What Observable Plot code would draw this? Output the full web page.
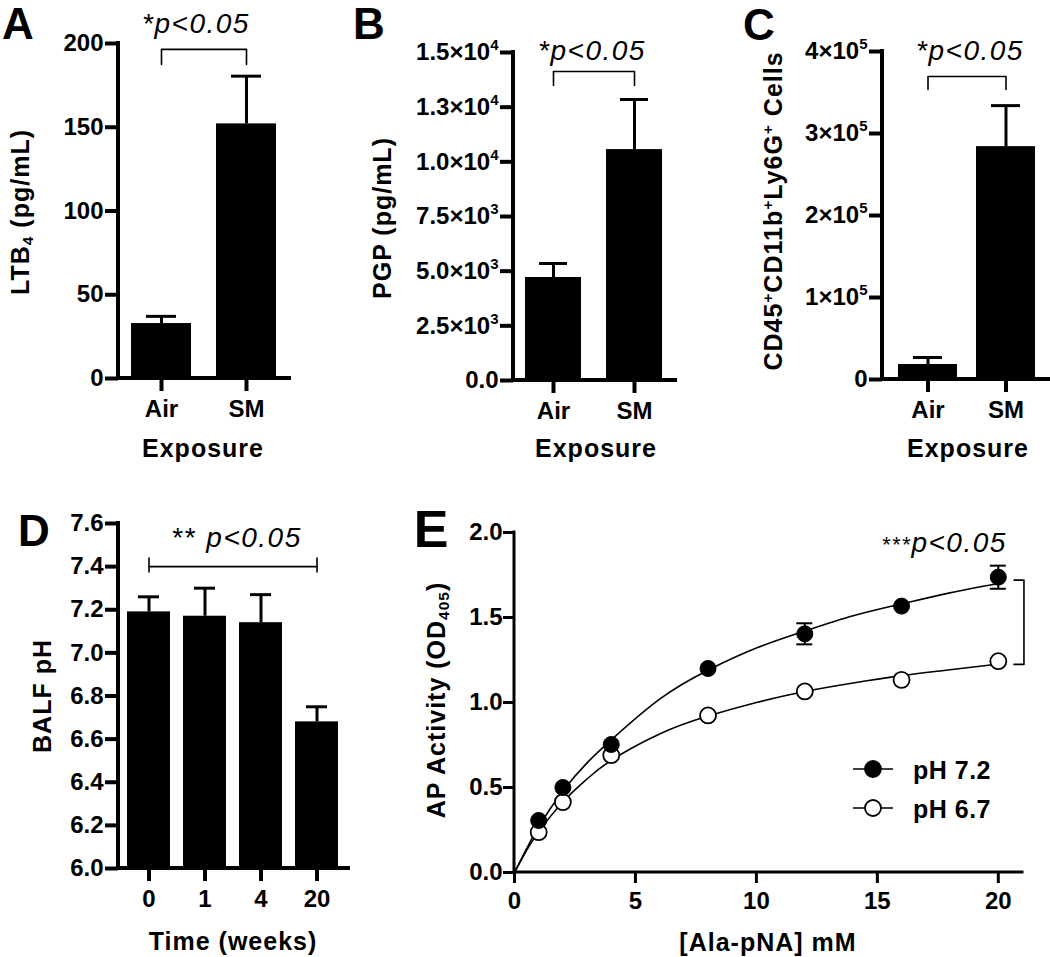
<!DOCTYPE html>
<html>
<head>
<meta charset="utf-8">
<script src="https://cdn.jsdelivr.net/npm/d3@7"></script>
<script src="https://cdn.jsdelivr.net/npm/@observablehq/plot@0.6"></script>
<style>
  body { margin: 0; background: #fff; }
  #fig { position: relative; width: 1050px; height: 957px; overflow: hidden; background: #fff;
         font-family: 'Liberation Sans', Arial, Helvetica, sans-serif; color: #000; }
  .panel { position: absolute; }
  #fig svg text { font-family: 'Liberation Sans', Arial, Helvetica, sans-serif; }
  .lbl { position: absolute; white-space: nowrap; line-height: 1; font-weight: bold; }
  .lbl.letter { line-height: 0.72; }
  .lbl sub, .lbl sup { font-size: 0.62em; line-height: 0; }
  .lbl sub { vertical-align: -0.28em; }
  .lbl sup { vertical-align: 0.55em; }
</style>
</head>
<body>
<div id="fig"></div>
<script>
// ---------------- data ----------------
const exposure = ["Air", "SM"];

const ltb4Mean = [32.8, 152];
const ltb4Sem = [4.3, 28.5];
const ltb4Ticks = [0, 50, 100, 150, 200];
const ltb4TickLabels = ["0", "50", "100", "150", "200"];
const ltb4Bracket = [187.5, 196.5];

const pgpMean = [4710, 10560];
const pgpSem = [640, 2290];
const pgpTicks = [0, 2500, 5000, 7500, 10000, 12500, 15000];
const pgpTickLabels = ["0.0", "2.5×10^3", "5.0×10^3", "7.5×10^3", "1.0×10^4", "1.3×10^4", "1.5×10^4"];
const pgpBracket = [13490, 14130];

const cellsMean = [18300, 284000];
const cellsSem = [8500, 50000];
const cellsTicks = [0, 100000, 200000, 300000, 400000];
const cellsTickLabels = ["0", "1×10^5", "2×10^5", "3×10^5", "4×10^5"];
const cellsBracket = [353700, 369500];

const weeks = ["0", "1", "4", "20"];
const phMean = [7.19, 7.17, 7.14, 6.68];
const phSem = [0.07, 0.13, 0.13, 0.07];
const phTicks = [6.0, 6.2, 6.4, 6.6, 6.8, 7.0, 7.2, 7.4, 7.6];
const phTickLabels = ["6.0", "6.2", "6.4", "6.6", "6.8", "7.0", "7.2", "7.4", "7.6"];
const phBracket = {y: 7.40, capLow: 7.37, capHigh: 7.44};

const alaPNA = [1, 2, 4, 8, 12, 16, 20];
const apPH72 = [0.306, 0.50, 0.753, 1.20, 1.404, 1.567, 1.737];
const apPH72Sem = [0, 0, 0, 0, 0.062, 0, 0.068];
const apPH67 = [0.237, 0.414, 0.69, 0.924, 1.065, 1.133, 1.243];
const fitX = [0, 0.5, 1, 2, 3, 4, 6, 8, 10, 12, 14, 16, 18, 20];
const fitPH72 = [0, 0.14, 0.27, 0.48, 0.645, 0.78, 1.02, 1.19, 1.32, 1.42, 1.51, 1.58, 1.645, 1.70];
const fitPH67 = [0, 0.13, 0.24, 0.415, 0.55, 0.66, 0.815, 0.92, 1.0, 1.065, 1.115, 1.158, 1.193, 1.226];
const apTicksX = [0, 5, 10, 15, 20];
const apTicksY = [0, 0.5, 1, 1.5, 2];
const apBracket = {x: 21.06, capX: 20.65, low: 1.224, high: 1.72};

// ---------------- helpers ----------------
const NS = "http://www.w3.org/2000/svg";
const FONT = "'Liberation Sans', Arial, Helvetica, sans-serif";
const fig = document.getElementById("fig");

function axisLines(sw) {
  return (index, scales, values, dims) => {
    const p = document.createElementNS(NS, "path");
    const x0 = dims.marginLeft, y0 = dims.height - dims.marginBottom;
    p.setAttribute("d", `M${x0},${dims.marginTop}V${y0}H${dims.width - dims.marginRight}`);
    p.setAttribute("fill", "none");
    p.setAttribute("stroke", "#000");
    p.setAttribute("stroke-width", sw);
    p.setAttribute("stroke-linecap", "square");
    return p;
  };
}

function supify(svg, size) {
  svg.querySelectorAll("text").forEach(t => {
    t.style.fontSize = size + "px";
    t.style.fontWeight = "bold";
    t.style.fill = "#000";
    const s = t.textContent;
    if (!s.includes("^")) return;
    const [base, exp] = s.split("^");
    while (t.firstChild) t.removeChild(t.firstChild);
    t.appendChild(document.createTextNode(base));
    const ts = document.createElementNS(NS, "tspan");
    ts.setAttribute("dy", "-10");
    ts.style.fontSize = "15px";
    ts.textContent = exp;
    t.appendChild(ts);
  });
}

function mount(svg, left, top, size) {
  const d = document.createElement("div");
  d.className = "panel";
  d.style.left = left + "px";
  d.style.top = top + "px";
  d.appendChild(svg);
  fig.appendChild(d);
  supify(svg, size);
}

function place(html, cx, cy, o = {}) {
  const d = document.createElement("div");
  d.className = "lbl" + (o.letter ? " letter" : "");
  d.innerHTML = html;
  d.style.left = cx + "px";
  d.style.top = cy + "px";
  d.style.fontSize = (o.size || 25) + "px";
  if (o.italic) { d.style.fontStyle = "italic"; d.style.fontWeight = "normal"; }
  if (o.ls != null) d.style.letterSpacing = o.ls + "px";
  const tx = o.anchor === "left" ? "0" : "-50%";
  d.style.transform = `translate(${tx},-50%)` + (o.rot ? " rotate(-90deg)" : "");
  fig.appendChild(d);
}

function bracketPts(cats, [low, high]) {
  return [
    {x: cats[0], y: low}, {x: cats[0], y: high},
    {x: cats[cats.length - 1], y: high}, {x: cats[cats.length - 1], y: low}
  ];
}

function barPanel(cfg) {
  const rows = cfg.cats.map((c, i) => ({cat: c, mean: cfg.mean[i], top: cfg.mean[i] + cfg.sem[i]}));
  return Plot.plot({
    width: cfg.width, height: cfg.height,
    marginTop: cfg.m[0], marginRight: cfg.m[1], marginBottom: cfg.m[2], marginLeft: cfg.m[3],
    style: {fontFamily: FONT, background: "transparent", overflow: "visible"},
    x: {type: "band", domain: cfg.cats, paddingInner: cfg.pi, paddingOuter: cfg.po, label: null},
    y: {domain: cfg.domain, label: null},
    marks: [
      Plot.ruleX(rows, {x: "cat", y1: "mean", y2: "top", stroke: "#000", strokeWidth: 3}),
      Plot.tickY(rows, {x: "cat", y: "top", stroke: "#000", strokeWidth: 3, insetLeft: cfg.cap, insetRight: cfg.cap}),
      Plot.barY(rows, {x: "cat", y1: cfg.domain[0], y2: "mean", fill: "#000"}),
      ...cfg.extra,
      Plot.axisY({ticks: cfg.ticks, tickFormat: d => cfg.tickLabels[cfg.ticks.indexOf(d)],
                  tickSize: 13, tickPadding: 2, strokeWidth: 4, fontSize: 24, fontWeight: "bold", label: null}),
      Plot.axisX({tickSize: 13, tickPadding: 8, strokeWidth: 4, fontSize: 24, fontWeight: "bold", label: null}),
      axisLines(4)
    ]
  });
}

// ---------------- panel A ----------------
mount(barPanel({
  cats: exposure, mean: ltb4Mean, sem: ltb4Sem, domain: [0, 200],
  ticks: ltb4Ticks, tickLabels: ltb4TickLabels,
  width: 350, height: 480, m: [43, 61, 102, 118], pi: 0.29, po: 0.15, cap: 15,
  extra: [Plot.line(bracketPts(exposure, ltb4Bracket), {x: "x", y: "y", stroke: "#000", strokeWidth: 1.6})]
}), 0, 0, 24);

// ---------------- panel B ----------------
mount(barPanel({
  cats: exposure, mean: pgpMean, sem: pgpSem, domain: [0, 15000],
  ticks: pgpTicks, tickLabels: pgpTickLabels,
  width: 350, height: 480, m: [52, 25, 100, 163], pi: 0.305, po: 0.15, cap: 14,
  extra: [Plot.line(bracketPts(exposure, pgpBracket), {x: "x", y: "y", stroke: "#000", strokeWidth: 1.6})]
}), 350, 0, 24);

// ---------------- panel C ----------------
mount(barPanel({
  cats: exposure, mean: cellsMean, sem: cellsSem, domain: [0, 400000],
  ticks: cellsTicks, tickLabels: cellsTickLabels,
  width: 350, height: 480, m: [51, 0, 101, 182], pi: 0.25, po: 0.19, cap: 15,
  extra: [Plot.line(bracketPts(exposure, cellsBracket), {x: "x", y: "y", stroke: "#000", strokeWidth: 1.6})]
}), 700, 0, 24);

// ---------------- panel D ----------------
mount(barPanel({
  cats: weeks, mean: phMean, sem: phSem, domain: [6.0, 7.6],
  ticks: phTicks, tickLabels: phTickLabels,
  width: 380, height: 477, m: [43, 32, 89, 118], pi: 0.23, po: 0.14, cap: 11,
  extra: [
    Plot.line([{x: weeks[0], y: phBracket.y}, {x: weeks[weeks.length - 1], y: phBracket.y}],
              {x: "x", y: "y", stroke: "#000", strokeWidth: 1.6}),
    Plot.ruleX([weeks[0], weeks[weeks.length - 1]],
               {x: d => d, y1: phBracket.capLow, y2: phBracket.capHigh, stroke: "#000", strokeWidth: 1.6})
  ]
}), 0, 480, 24);

// ---------------- panel E ----------------
const e72 = alaPNA.map((x, i) => ({x, y: apPH72[i], sem: apPH72Sem[i]}));
const e67 = alaPNA.map((x, i) => ({x, y: apPH67[i]}));
const f72 = fitX.map((x, i) => ({x, y: fitPH72[i]}));
const f67 = fitX.map((x, i) => ({x, y: fitPH67[i]}));
const eErr = e72.filter(d => d.sem > 0);
const eBr = [
  {x: apBracket.capX, y: apBracket.high}, {x: apBracket.x, y: apBracket.high},
  {x: apBracket.x, y: apBracket.low}, {x: apBracket.capX, y: apBracket.low}
];
mount(Plot.plot({
  width: 670, height: 477, marginTop: 52, marginRight: 28, marginBottom: 85, marginLeft: 134,
  style: {fontFamily: FONT, background: "transparent", overflow: "visible"},
  x: {domain: [0, 21], label: null},
  y: {domain: [0, 2], label: null},
  marks: [
    Plot.line(f72, {x: "x", y: "y", curve: "natural", stroke: "#000", strokeWidth: 1.6}),
    Plot.line(f67, {x: "x", y: "y", curve: "natural", stroke: "#000", strokeWidth: 1.6}),
    Plot.ruleX(eErr, {x: "x", y1: d => d.y - d.sem, y2: d => d.y + d.sem, stroke: "#000", strokeWidth: 2}),
    Plot.ruleY(eErr, {x1: "x", x2: "x", y: d => d.y + d.sem, insetLeft: -8, insetRight: -8, stroke: "#000", strokeWidth: 2}),
    Plot.ruleY(eErr, {x1: "x", x2: "x", y: d => d.y - d.sem, insetLeft: -8, insetRight: -8, stroke: "#000", strokeWidth: 2}),
    Plot.dot(e67, {x: "x", y: "y", r: 8, fill: "#fff", stroke: "#000", strokeWidth: 1.8}),
    Plot.dot(e72, {x: "x", y: "y", r: 8, fill: "#000", stroke: "#000", strokeWidth: 1}),
    Plot.line(eBr, {x: "x", y: "y", stroke: "#000", strokeWidth: 1.6}),
    Plot.axisY({ticks: apTicksY, tickFormat: d => d.toFixed(1), tickSize: 11, tickPadding: 1,
                strokeWidth: 3, fontSize: 24, fontWeight: "bold", label: null}),
    Plot.axisX({ticks: apTicksX, tickSize: 11, tickPadding: 8, strokeWidth: 3,
                fontSize: 24, fontWeight: "bold", label: null}),
    axisLines(3)
  ]
}), 380, 480, 24);

// ---------------- text overlays ----------------
// panel letters
place("A", 18, 24, {size: 44, letter: true});
place("B", 369, 24, {size: 44, letter: true});
place("C", 759, 25, {size: 44, letter: true});
place("D", 34, 531, {size: 44, letter: true});
place("E", 431, 530, {size: 52, letter: true});

// axis titles
place("LTB<sub>4</sub> (pg/mL)", 20, 212, {rot: true, ls: 1});
place("Exposure", 203, 448, {ls: 1});
place("PGP (pg/mL)", 382, 218, {rot: true, ls: 1});
place("Exposure", 596, 448, {ls: 1});
place("CD45<sup>+</sup>CD11b<sup>+</sup>Ly6G<sup>+</sup> Cells", 773, 211, {rot: true, ls: 1});
place("Exposure", 968, 448, {ls: 1});
place("BALF pH", 42, 696, {rot: true, ls: 1});
place("Time (weeks)", 233, 941, {ls: 1});
place("AP Activity (OD<sub>405</sub>)", 436, 700, {rot: true, ls: 1});
place("[Ala-pNA] mM", 768, 942, {ls: 1});

// significance annotations
place("*p&lt;0.05", 196, 24, {size: 28, italic: true, ls: 1.5});
place("*p&lt;0.05", 592, 51, {size: 28, italic: true, ls: 1.5});
place("*p&lt;0.05", 970, 51, {size: 28, italic: true, ls: 1.5});
place("<span style='font-style:normal'>**</span> p&lt;0.05", 237, 538, {size: 28, italic: true, ls: 1.5});
place("<span style='font-size:22px'>***</span>p&lt;0.05", 944, 543, {size: 28, italic: true, ls: 1.5});

// legend for panel E
function legendSymbol(cx, cy, filled) {
  const s = document.createElementNS(NS, "svg");
  s.setAttribute("width", 44); s.setAttribute("height", 22);
  s.style.position = "absolute";
  s.style.left = (cx - 22) + "px";
  s.style.top = (cy - 11) + "px";
  s.innerHTML = `<line x1="2" y1="11" x2="42" y2="11" stroke="#000" stroke-width="1.6"/>` +
    `<circle cx="22" cy="11" r="8" fill="${filled ? "#000" : "#fff"}" stroke="#000" stroke-width="1.8"/>`;
  fig.appendChild(s);
}
legendSymbol(873, 769, true);
legendSymbol(873, 808, false);
place("pH 7.2", 913, 770, {anchor: "left", ls: 0.5});
place("pH 6.7", 913, 809, {anchor: "left", ls: 0.5});
</script>
</body>
</html>
